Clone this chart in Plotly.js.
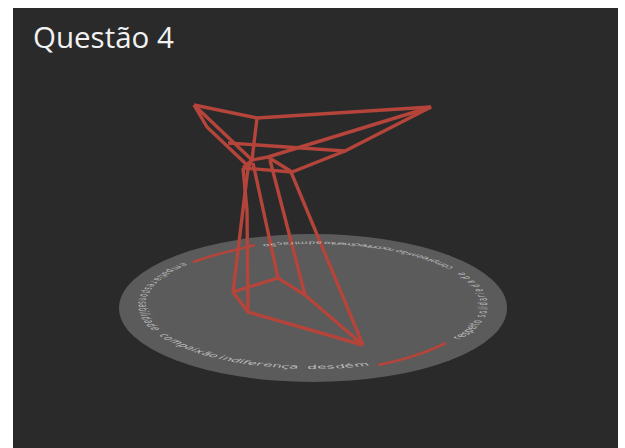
<!DOCTYPE html>
<html><head><meta charset="utf-8">
<script src="https://cdn.plot.ly/plotly-3.0.1.min.js"></script>
<style>html,body{margin:0;padding:0;background:#fff}</style>
</head><body><div id="chart" style="width:625px;height:448px"></div>
<script>
const chartTitle = "Questão 4";
// wire-frame paths
const path1X = [194,207,247], path1Y = [105,127,165];
const path2X = [194,252], path2Y = [105,160];
const path3X = [194,257,431,345,228], path3Y = [105,118,107,151,143];
const path4X = [431,268,252,243], path4Y = [107,157,160,168];
const path5X = [345,292,243], path5Y = [151,172,168];
const path6X = [292,268], path6Y = [172,157];
const path7X = [257,252,248], path7Y = [118,160,168];
const col1X = [248,233], col1Y = [168,292];
const col2X = [243,247,248], col2Y = [168,210,312];
const col3X = [253,278], col3Y = [163,278];
const col4X = [270,305], col4Y = [160,295];
const col5X = [291,363], col5Y = [172,345];
const base1X = [233,278,305,363,248,233], base1Y = [292,278,295,345,312,292];
const arc1X = [378,400,425,446], arc1Y = [365,360,352,343];
const arc2X = [193,215,235,255], arc2Y = [262,255,250,245];
const paths = [[path1X,path1Y],[path2X,path2Y],[path3X,path3Y],[path4X,path4Y],[path5X,path5Y],[path6X,path6Y],[path7X,path7Y],
  [col1X,col1Y],[col2X,col2Y],[col3X,col3Y],[col4X,col4Y],[col5X,col5Y],[base1X,base1Y]];
const arcs = [[arc1X,arc1Y],[arc2X,arc2Y]];
// ring labels with start/end angle on the ring
const ringWords = ["compaixão","indiferença","desdém","respeito","solidariedade","compreensão","reconhecimento","admiração","empatia","responsabilidade"];
const ringStart = [152,123,92,33,12,-36,-62,-87,-138,-157.5];
const ringEnd = [124,95,71,14,-32,-61,-86,-107,-157,-204];

const red = "#b5443b";
const traces = paths.map(p => ({x:p[0],y:p[1],mode:"lines",type:"scatter",hoverinfo:"skip",showlegend:false,
  line:{color:red,width:3.4,shape:"linear"}}));
arcs.forEach(p => traces.push({x:p[0],y:p[1],mode:"lines",type:"scatter",hoverinfo:"skip",showlegend:false,
  line:{color:red,width:2.5,shape:"spline"}}));

const annotations = [{x:31,y:36,xref:"x",yref:"y",xanchor:"left",yanchor:"middle",showarrow:false,
  text:chartTitle,font:{family:"Open Sans",size:29.5,color:"#f2f2f2"}}];
const rc = {x:313,y:305,a:170,b:62};
const baseFont = 13;
const ctx = document.createElement("canvas").getContext("2d");
ctx.font = baseFont+"px 'DejaVu Sans'";
const glyphs = [];
ringWords.forEach((w,i)=>{
  const chars = Array.from(w);
  const widths = chars.map(c=>ctx.measureText(c).width);
  const total = widths.reduce((s,v)=>s+v,0);
  let run = 0;
  chars.forEach((c,j)=>{
    const deg = ringStart[i] + (ringEnd[i]-ringStart[i])*(run+widths[j]/2)/total;
    run += widths[j];
    const t = deg*Math.PI/180;
    const x = rc.x+rc.a*Math.cos(t), y = rc.y+rc.b*Math.sin(t);
    glyphs.push({t,x,y});
    annotations.push({x,y,xref:"x",yref:"y",showarrow:false,text:c,
      font:{family:"DejaVu Sans",size:baseFont,color:"#bdbdbd"}});
  });
});
const layout = {
  width:625,height:448,margin:{l:0,r:0,t:0,b:0},paper_bgcolor:"#ffffff",plot_bgcolor:"#ffffff",showlegend:false,
  xaxis:{range:[0,625],visible:false,fixedrange:true},
  yaxis:{range:[448,0],visible:false,fixedrange:true},
  shapes:[
    {type:"rect",xref:"x",yref:"y",x0:13,x1:618,y0:8,y1:448,fillcolor:"#2a2a2a",line:{width:0},layer:"below"},
    {type:"circle",xref:"x",yref:"y",x0:119,x1:507,y0:234,y1:382,fillcolor:"#5b5b5b",line:{width:0},layer:"below"}
  ],
  annotations:annotations
};
Plotly.newPlot("chart",traces,layout,{displayModeBar:false,staticPlot:true}).then(gd=>{
  // lay the ring letters flat on the tilted disc
  const k = rc.b/rc.a;
  gd.querySelectorAll(".annotation").forEach(el=>{
    const idx = +el.getAttribute("data-index");
    if(!idx) return;
    const g = glyphs[idx-1];
    const s = 1+0.17*Math.sin(g.t);
    const a = s*Math.sin(g.t), b = -s*k*Math.cos(g.t), c = s*Math.cos(g.t), d = s*k*Math.sin(g.t);
    el.setAttribute("transform",`translate(${g.x},${g.y}) matrix(${a},${b},${c},${d},0,0) translate(${-g.x},${-g.y})`);
  });
});
</script></body></html>
